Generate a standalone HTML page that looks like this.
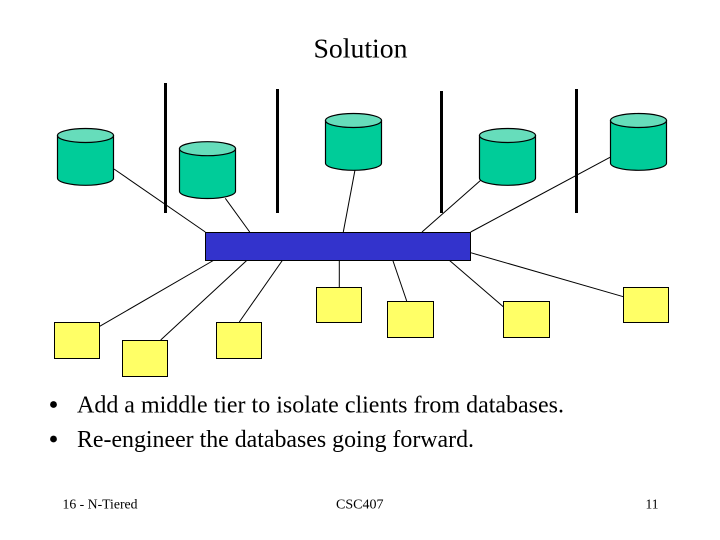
<!DOCTYPE html>
<html>
<head>
<meta charset="utf-8">
<style>
html,body{margin:0;padding:0;background:#fff;width:720px;height:540px;overflow:hidden}
svg{display:block}
text{font-family:"Liberation Serif",serif;fill:#000}
</style>
</head>
<body>
<svg width="720" height="540" viewBox="0 0 720 540" xmlns="http://www.w3.org/2000/svg">
<defs>
<g id="cyl" stroke="#000" stroke-width="1.2">
<path d="M0 7.2V49.8C0 53.8 12.5 57 28 57S56 53.8 56 49.8V7.2Z" fill="#00cc99"/>
<ellipse cx="28" cy="7.2" rx="28" ry="7" fill="#66ddbb"/>
</g>
</defs>
<rect width="720" height="540" fill="#fff"/>

<g stroke="#000" stroke-width="1" fill="none">
<line x1="114" y1="169" x2="205.3" y2="232"/>
<line x1="225.3" y1="198.3" x2="249.7" y2="232"/>
<line x1="355" y1="170" x2="343.3" y2="232"/>
<line x1="481" y1="180" x2="422" y2="232"/>
<line x1="610" y1="157.3" x2="470.7" y2="232"/>
<line x1="213.3" y1="260.5" x2="99.7" y2="326.3"/>
<line x1="246.7" y1="260.5" x2="160.7" y2="340"/>
<line x1="282.3" y1="260.5" x2="239.3" y2="322"/>
<line x1="339.3" y1="260" x2="339.3" y2="287"/>
<line x1="392.7" y1="260" x2="406.7" y2="301"/>
<line x1="449" y1="260" x2="503.3" y2="306.7"/>
<line x1="470.7" y1="252.7" x2="623.3" y2="296.7"/>
</g>

<g fill="#000">
<rect x="164" y="83" width="3" height="130"/>
<rect x="276" y="89" width="3" height="124"/>
<rect x="440" y="91" width="3" height="122"/>
<rect x="575" y="89" width="3" height="124"/>
</g>

<use href="#cyl" x="57.5" y="128.3"/>
<use href="#cyl" x="179.5" y="141.5"/>
<use href="#cyl" x="325.5" y="113.3"/>
<use href="#cyl" x="479.5" y="128.3"/>
<use href="#cyl" x="610.5" y="113.3"/>

<rect x="205.5" y="232.5" width="265" height="28" fill="#3333cc" stroke="#000" stroke-width="1"/>

<g fill="#ffff66" stroke="#000" stroke-width="1">
<rect x="54.5" y="322.5" width="45" height="36"/>
<rect x="122.5" y="340.5" width="45" height="36"/>
<rect x="216.5" y="322.5" width="45" height="36"/>
<rect x="316.5" y="287.5" width="45" height="35"/>
<rect x="387.5" y="301.5" width="46" height="36"/>
<rect x="503.5" y="301.5" width="46" height="36"/>
<rect x="623.5" y="287.5" width="45" height="35"/>
</g>

<text x="313.5" y="57.5" font-size="27.7" textLength="94" lengthAdjust="spacingAndGlyphs">Solution</text>

<circle cx="53.5" cy="404.5" r="3.4" fill="#000"/>
<circle cx="53.5" cy="439" r="3.4" fill="#000"/>
<text x="77" y="412.5" font-size="24" textLength="487" lengthAdjust="spacingAndGlyphs">Add a middle tier to isolate clients from databases.</text>
<text x="77" y="447" font-size="24" textLength="397" lengthAdjust="spacingAndGlyphs">Re-engineer the databases going forward.</text>

<text x="62.5" y="508.5" font-size="13.3" textLength="75" lengthAdjust="spacingAndGlyphs">16 - N-Tiered</text>
<text x="336" y="508.5" font-size="13.3" textLength="47.5" lengthAdjust="spacingAndGlyphs">CSC407</text>
<text x="645.5" y="508.5" font-size="13.3" textLength="13" lengthAdjust="spacingAndGlyphs">11</text>
</svg>
</body>
</html>
